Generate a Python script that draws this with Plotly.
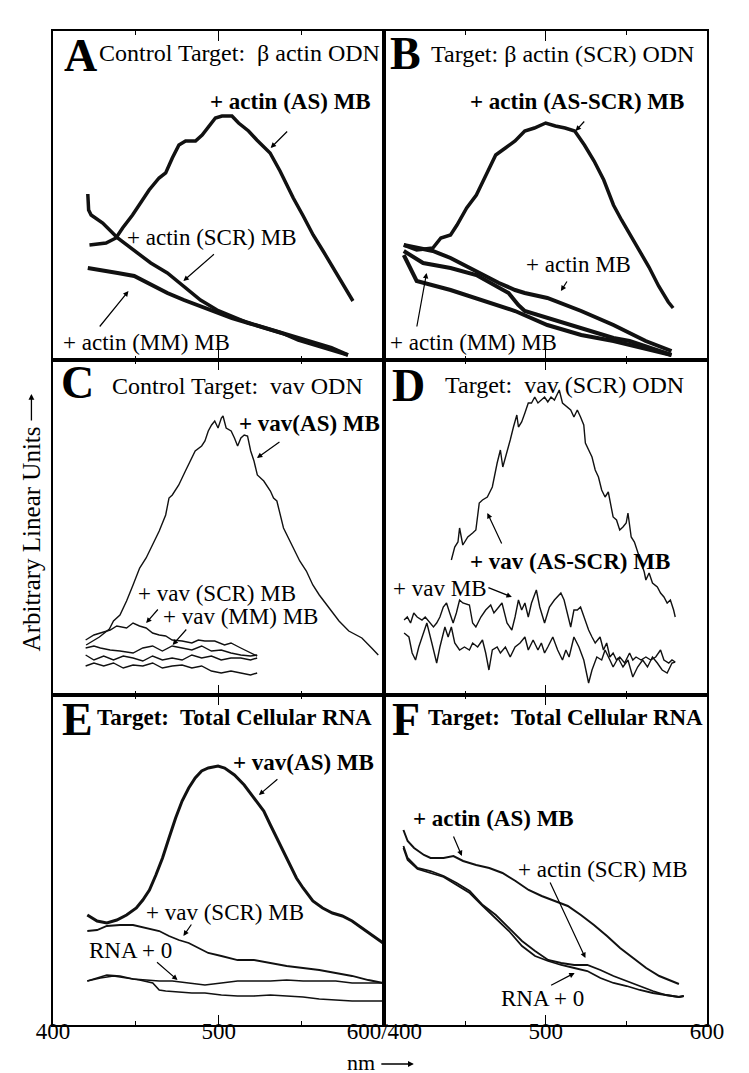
import plotly.graph_objects as go
from plotly.subplots import make_subplots

# -----------------------------
# Spectra (x = nm, y = arbitrary linear units)
# -----------------------------

# A  Control target: beta actin ODN
a_as_nm = [422, 432, 438, 442, 448, 452, 458, 464, 468, 472, 476, 480, 486, 490, 494, 498,
           502, 508, 512, 518, 523, 527, 531, 537, 541, 545, 551, 557, 563, 569, 575, 581]
a_as_val = [115, 117, 122, 132, 145, 155, 170, 182, 187, 202, 215, 219, 219, 225, 234, 242,
            244, 244, 237, 229, 220, 214, 207, 189, 175, 162, 144, 125, 109, 92, 75, 59]
a_scr_nm = [421, 421.5, 423, 430, 439, 449, 459, 469, 479, 489, 499, 508, 518, 528, 538, 548, 558, 568, 578]
a_scr_val = [166, 150, 145, 137, 122, 110, 97, 87, 74, 60, 50, 44, 37, 32, 27, 20, 15, 10, 5]
a_mm_nm = [421, 430, 439, 449, 459, 469, 479, 489, 499, 508, 518, 528, 538, 548, 558, 568, 578]
a_mm_val = [92, 89, 87, 84, 75, 67, 60, 54, 47, 42, 37, 32, 27, 22, 17, 12, 5]

# B  Target: beta actin (SCR) ODN
b_as_nm = [412, 420, 430, 435, 441, 445, 451, 457, 463, 469, 475, 481, 487, 493, 500,
           506, 512, 518, 524, 530, 536, 542, 547, 552, 558, 564, 570, 576, 579]
b_as_val = [115, 110, 112, 122, 125, 135, 152, 165, 185, 205, 212, 219, 229, 232, 237,
            234, 232, 229, 215, 199, 180, 155, 140, 126, 110, 93, 74, 58, 52]
b_actin_nm = [412, 430, 441, 457, 471, 481, 487, 501, 522, 542, 562, 578]
b_actin_val = [115, 109, 102, 89, 77, 70, 67, 62, 49, 35, 19, 9]
b_mm1_nm = [412, 424, 441, 457, 477, 483, 487, 501, 522, 542, 552, 578]
b_mm1_val = [109, 97, 92, 85, 67, 55, 49, 42, 32, 22, 19, 5]
b_mm2_nm = [412, 420, 441, 461, 481, 501, 522, 542, 578]
b_mm2_val = [105, 79, 70, 59, 49, 35, 25, 19, 5]

# C  Control target: vav ODN
c_as_nm = [420, 428, 434, 436.5, 440.4, 444.4, 448.3, 452.3, 456.2, 460.2, 464.1, 468, 470, 472,
           475.9, 479.9, 483.8, 485.8, 489.7, 491.7, 493.7, 495.7, 497.6, 499.6, 501.6, 502.6,
           504.5, 507.5, 509.5, 511.4, 513.4, 515.4, 517.4, 519.3, 521.3, 523.3, 527.2, 531.2,
           533.1, 535.1, 539.1, 543, 547, 548.9, 552.9, 556.8, 560.7, 566.7, 572.6, 578.5,
           586.4, 592.3, 596.3]
c_as_val = [50, 58, 66, 74, 80, 94, 110, 127, 137, 150, 164, 180, 197, 200,
            210, 224, 237, 244, 249, 254, 264, 270, 274, 267, 277, 279,
            267, 264, 257, 249, 257, 260, 259, 244, 234, 220, 214, 204,
            197, 194, 167, 154, 140, 134, 124, 110, 100, 87, 74, 64,
            57, 47, 40]
c_scr_nm = [419.7, 424.7, 428.6, 434.5, 438.5, 444.4, 448.3, 452.2, 456.2, 460.1, 464.1, 468,
            471.9, 477.9, 483.8, 487.7, 491.6, 497.6, 503.5, 507.4, 513.3, 519.2, 523.2]
c_scr_val = [55, 60, 62, 65, 69, 67, 72, 69, 67, 62, 60, 59, 55, 54, 52, 55, 54, 54, 50, 52, 47, 42, 39]
c_mm_nm = [419.7, 424.7, 428.6, 434.5, 440.4, 448.3, 454.2, 460.1, 466, 471.9, 477.9, 483.8,
           489.7, 495.6, 501.5, 507.4, 513.3, 519.2, 523.2]
c_mm_val = [47, 49, 47, 45, 44, 42, 47, 49, 44, 49, 47, 45, 49, 44, 45, 42, 40, 39, 40]
c_base_nm = [419.7, 424.7, 430.6, 436.5, 442.4, 448.3, 454.2, 460.1, 466, 471.9, 477.9, 483.8,
             489.7, 495.6, 501.5, 507.4, 513.3, 519.2, 523.2]
c_base1_val = [40, 35, 39, 35, 39, 37, 34, 39, 35, 37, 35, 40, 37, 39, 35, 37, 37, 35, 37]
c_base2_val = [29, 32, 29, 32, 27, 30, 29, 32, 27, 29, 30, 27, 29, 24, 22, 24, 22, 20, 22]

# D  Target: vav (SCR) ODN
d_as_nm = [441.5, 443.6, 445.6, 446.6, 448.6, 451.7, 454.7, 456.7, 458.8, 460.8, 463.8, 466.9,
           469.9, 471.9, 473.4, 476, 478, 480, 482.1, 483.1, 485.1, 487.1, 489.2, 491.2, 493.2,
           495.2, 497.3, 499.3, 501.3, 503.3, 505.4, 507.4, 508.4, 510.4, 513.5, 515.5, 517.5,
           519.6, 521.6, 523.6, 524.6, 526.6, 528.7, 530.7, 532.7, 534.7, 536.8, 538.8, 539.8,
           541.8, 543.9, 545.9, 547.9, 549.9, 551, 552, 553, 555, 561.1, 562.1, 564.1, 566.2,
           569.2, 571.2, 573.3, 575.3, 577.3, 579.3, 580.3]
d_as_val = [135, 148, 153, 167, 150, 158, 162, 165, 192, 195, 198, 208,
            232, 245, 228, 245, 255, 268, 280, 268, 273, 282, 292, 292, 298,
            292, 295, 298, 293, 298, 295, 302, 305, 292, 288, 285, 278,
            285, 278, 270, 252, 245, 238, 225, 218, 205, 198, 203, 195,
            178, 175, 165, 168, 172, 182, 168, 158, 153, 123, 115, 122, 112,
            108, 102, 98, 92, 95, 85, 78]
d_vav_nm = [412.2, 414.2, 416.2, 418.2, 420.3, 423.3, 425.3, 428.4, 430.4, 432.4, 434.4, 436.5,
            438.5, 440.5, 442.6, 444.6, 446.6, 448.6, 452.7, 454.7, 456.7, 459.8, 462.8, 465.9,
            467.9, 470.9, 472.9, 476, 479, 481, 483.1, 485.1, 487.1, 489.2, 491.2, 494.2, 496.3,
            499.3, 502.3, 505.4, 507.4, 509.4, 511.4, 513.5, 515.5, 517.5, 519.6, 521.6, 523.6,
            526.6, 528.7, 530.7, 533.7, 535.8, 537.8, 539.8, 541.8, 543.9, 545.9, 548.9, 552,
            554, 556, 559.1, 562.1, 565.1, 568.2, 571.2, 573.3, 576.3, 578.3, 580.3]
d_vav_val = [75, 78, 72, 82, 78, 75, 78, 72, 68, 72, 78, 88,
             92, 82, 72, 82, 95, 92, 90, 72, 68, 78, 85, 90,
             82, 88, 92, 72, 65, 78, 95, 85, 92, 78, 92, 105, 88,
             72, 88, 95, 98, 102, 95, 82, 68, 85, 85, 88, 78,
             65, 58, 52, 58, 45, 52, 38, 42, 35, 38, 32, 42,
             35, 38, 35, 38, 35, 38, 45, 35, 32, 35, 33]
d_base_nm = [412.2, 415.2, 417.2, 419.3, 421.3, 423.3, 426.3, 429.4, 432.4, 434.4, 437.5, 439.5,
             441.5, 443.6, 446.6, 449.6, 452.7, 454.7, 457.8, 460.8, 462.8, 464.8, 466.9, 469.9,
             471.9, 475, 478, 481, 484.1, 487.1, 489.2, 492.2, 495.2, 497.3, 499.3, 501.3, 504.4,
             507.4, 510.4, 512.5, 514.5, 517.5, 520.6, 523.6, 526.6, 528.7, 531.7, 534.7, 536.8,
             539.8, 541.8, 544.9, 547.9, 551, 554, 557, 560.1, 563.1, 566.2, 569.2, 572.2, 575.3,
             578.3, 580.3]
d_base_val = [62, 58, 42, 35, 48, 58, 72, 52, 32, 48, 68, 58,
              68, 52, 45, 48, 45, 52, 48, 55, 42, 25, 45, 48,
              42, 48, 38, 48, 52, 58, 45, 55, 45, 52, 42, 48, 58,
              45, 35, 45, 38, 58, 48, 35, 12, 25, 38, 35, 45,
              35, 28, 37, 28, 35, 18, 28, 35, 28, 38, 32, 25, 22,
              32, 33]

# E  Target: total cellular RNA (vav beacons)
e_as_nm = [420.7, 426.6, 432.5, 438.5, 444.4, 450.3, 454.2, 458.2, 462.1, 466.1, 470, 474, 477.9,
           481.9, 485.8, 489.7, 493.7, 499.6, 503.6, 509.5, 515.4, 521.3, 527.2, 531.2, 535.1,
           541, 546.9, 550.9, 556.8, 562.7, 568.6, 574.6, 580.5, 586.4, 592.3, 599.2]
e_as_val = [110, 104, 102, 105, 110, 117, 125, 135, 150, 167, 187, 207, 224,
            237, 247, 254, 257, 259, 257, 250, 240, 227, 214, 200, 187,
            167, 147, 137, 124, 117, 112, 109, 104, 97, 90, 82]
e_scr_nm = [420.7, 426.6, 432.5, 440.4, 448.3, 456.2, 464.1, 470, 475.9, 481.9, 487.8, 493.7,
            501.6, 511.4, 521.3, 531.2, 541, 550.9, 560.7, 570.6, 580.5, 590.3, 599.2]
e_scr_val = [94, 95, 99, 100, 100, 97, 94, 89, 85, 82, 77, 72, 69, 65, 65, 62, 59, 57, 55, 52, 49, 45, 42]
e_rna1_nm = [420.7, 426.6, 432.5, 440.4, 448.3, 456.2, 464.1, 472, 481.9, 491.7, 501.6, 511.4,
             521.3, 531.2, 541, 550.9, 560.7, 570.6, 580.5, 590.3, 599.2]
e_rna1_val = [44, 47, 50, 49, 46, 45, 44, 44, 42, 40, 42, 44, 44, 44, 45, 44, 44, 44, 42, 42, 42]
e_rna2_nm = [420.7, 428.6, 436.5, 444.4, 452.3, 460.2, 464.1, 468, 475.9, 483.8, 491.7, 501.6,
             511.4, 521.3, 531.2, 541, 550.9, 560.7, 570.6, 580.5, 590.3, 599.2]
e_rna2_val = [44, 47, 49, 47, 45, 42, 35, 34, 33, 32, 32, 30, 29, 29, 30, 29, 28, 26, 25, 24, 24, 24]

# F  Target: total cellular RNA (actin beacons)
f_as_nm = [411.8, 414.4, 418.4, 424.5, 428.6, 436.7, 442.8, 448.8, 456.9, 465, 473.2, 481.3,
           489.4, 497.5, 505.6, 513.7, 521.8, 529.9, 538, 546.1, 554.2, 562.3, 570.4, 578.5, 582.6]
f_as_val = [195, 184, 177, 170, 167, 167, 169, 164, 160, 157, 152, 144,
            135, 129, 124, 119, 110, 100, 89, 77, 67, 57, 49, 44, 41]
f_nm = [411.8, 414.4, 420.5, 428.6, 436.7, 444.8, 452.9, 461, 469.1, 477.2, 485.3, 493.4,
        501.5, 509.6, 517.7, 525.8, 533.9, 542, 550.2, 558.3, 566.4, 574.5, 582.6, 585.6]
f_scr_val = [179, 167, 157, 154, 149, 142, 134, 120, 110, 97, 84, 74,
             65, 62, 60, 60, 55, 49, 44, 39, 34, 30, 28, 29]
f_rna_val = [177, 165, 156, 152, 148, 140, 132, 119, 107, 94, 79, 69,
             64, 60, 57, 54, 47, 42, 39, 35, 32, 30, 28, 29]

# -----------------------------
# Figure
# -----------------------------

W, H = 749, 1073
L, R, T, B = 45, 712, 23, 1017
FONT = "Liberation Serif"

fig = make_subplots(
    rows=3, cols=2,
    column_widths=[338, 329],
    row_heights=[329, 335, 330],
    horizontal_spacing=0,
    vertical_spacing=0,
)


def add(x, y, row, col, width):
    fig.add_trace(
        go.Scatter(x=x, y=y, mode="lines",
                   line=dict(color="#111111", width=width),
                   showlegend=False, hoverinfo="skip"),
        row=row, col=col,
    )


add(a_mm_nm, a_mm_val, 1, 1, 4)
add(a_scr_nm, a_scr_val, 1, 1, 3.5)
add(a_as_nm, a_as_val, 1, 1, 3.5)

add(b_mm2_nm, b_mm2_val, 1, 2, 4)
add(b_mm1_nm, b_mm1_val, 1, 2, 4)
add(b_actin_nm, b_actin_val, 1, 2, 4)
add(b_as_nm, b_as_val, 1, 2, 3.5)

add(c_base_nm, c_base2_val, 2, 1, 1.4)
add(c_base_nm, c_base1_val, 2, 1, 1.4)
add(c_mm_nm, c_mm_val, 2, 1, 1.4)
add(c_scr_nm, c_scr_val, 2, 1, 1.4)
add(c_as_nm, c_as_val, 2, 1, 1.4)

add(d_base_nm, d_base_val, 2, 2, 1.4)
add(d_vav_nm, d_vav_val, 2, 2, 1.4)
add(d_as_nm, d_as_val, 2, 2, 1.4)

add(e_rna2_nm, e_rna2_val, 3, 1, 1.6)
add(e_rna1_nm, e_rna1_val, 3, 1, 1.6)
add(e_scr_nm, e_scr_val, 3, 1, 1.8)
add(e_as_nm, e_as_val, 3, 1, 3)

add(f_nm, f_rna_val, 3, 2, 1.8)
add(f_nm, f_scr_val, 3, 2, 1.8)
add(f_as_nm, f_as_val, 3, 2, 2)

# axes: boxed panels, inward ticks top and bottom, labels only on the bottom row
row_tops = [329, 335, 330]
for r in range(1, 4):
    for c in range(1, 3):
        bottom = r == 3
        if bottom and c == 1:
            tv, tt = [400, 500, 600], ["400", "500", "600/400"]
        elif bottom:
            tv, tt = [500, 600], ["500", "600"]
        else:
            tv, tt = [400, 500, 600], ["", "", ""]
        fig.update_xaxes(
            row=r, col=c,
            range=[400, 600],
            showline=True, linewidth=2, linecolor="black", mirror="ticks",
            showgrid=False, zeroline=False,
            ticks="inside", ticklen=10, tickwidth=1.3, tickcolor="black",
            tickmode="array", tickvals=tv, ticktext=tt,
            showticklabels=bottom, ticklabelstandoff=-16,
            tickfont=dict(family=FONT, size=23, color="black"),
            minor=dict(tickmode="array", tickvals=[450, 550], ticks="inside",
                       ticklen=4, tickwidth=1.2, tickcolor="black"),
        )
        fig.update_yaxes(
            row=r, col=c,
            range=[0, row_tops[r - 1]],
            showline=True, linewidth=2, linecolor="black", mirror=True,
            showgrid=False, zeroline=False, ticks="", showticklabels=False,
        )


def px(x, y):
    return (x - L) / (R - L), (B - y) / (B - T)


annotations = []


def label(text, x, y, size=23, anchor="left", angle=0):
    xp, yp = px(x, y)
    annotations.append(dict(
        text=text, x=xp, y=yp, xref="paper", yref="paper",
        xanchor=anchor, yanchor="middle", showarrow=False, textangle=angle,
        font=dict(family=FONT, size=size, color="black"),
    ))


def arrow(x0, y0, x1, y1, width=1.2):
    xp, yp = px(x1, y1)
    annotations.append(dict(
        text="", x=xp, y=yp, xref="paper", yref="paper",
        ax=x0 - x1, ay=y0 - y1, showarrow=True,
        arrowhead=2, arrowsize=0.9, arrowwidth=width, arrowcolor="black", standoff=0,
    ))


# panel letters and titles
for letter, x, y in [("A", 54, 47), ("B", 387, 46), ("C", 51, 374),
                     ("D", 389, 377), ("E", 52, 712), ("F", 389, 712)]:
    label(f"<b>{letter}</b>", x, y, size=46)

label("Control Target:\u00a0 β actin ODN", 90, 45, size=24)
label("Target: β actin (SCR) ODN", 428, 46, size=24)
label("Control Target:\u00a0 vav ODN", 103, 378, size=24)
label("Target:\u00a0 vav (SCR) ODN", 443, 377, size=24)
label("<b>Target:\u00a0 Total Cellular RNA</b>", 88, 709, size=23)
label("<b>Target:\u00a0 Total Cellular RNA</b>", 425, 709, size=23)

# curve labels
label("<b>+ actin (AS) MB</b>", 203, 93)
label("+ actin (SCR) MB", 118, 230)
label("+ actin (MM) MB", 53, 335)
label("<b>+ actin (AS-SCR) MB</b>", 468, 94)
label("+ actin MB", 525, 256)
label("+ actin (MM) MB", 387, 335)
label("<b>+ vav(AS) MB</b>", 233, 415)
label("+ vav (SCR) MB", 130, 585)
label("+ vav (MM) MB", 155, 608)
label("<b>+ vav (AS-SCR) MB</b>", 468, 553)
label("+ vav MB", 390, 580)
label("<b>+ vav(AS) MB</b>", 227, 754)
label("+ vav (SCR) MB", 138, 904)
label("RNA + 0", 80, 942)
label("<b>+ actin (AS) MB</b>", 410, 810)
label("+ actin (SCR) MB", 517, 861)
label("RNA + 0", 500, 990)

# pointer arrows (tail -> head)
arrow(285, 122, 267, 140)
arrow(210, 245, 178, 273)
arrow(92, 320, 122, 283)
arrow(588, 112, 578, 123)
arrow(570, 272, 563, 283)
arrow(416, 320, 426, 265)
arrow(277, 433, 253, 450)
arrow(153, 600, 140, 615)
arrow(182, 620, 167, 637)
arrow(503, 537, 488, 505)
arrow(488, 579, 513, 589)
arrow(275, 770, 255, 787)
arrow(187, 915, 178, 928)
arrow(150, 953, 172, 972)
arrow(453, 827, 462, 848)
arrow(552, 873, 588, 950)
arrow(552, 978, 577, 965)

# axis titles
label("Arbitrary Linear Units", 23, 531, size=25, anchor="center", angle=-90)
arrow(23, 414, 23, 386, width=1.3)
label("nm", 359, 1054, size=22, anchor="center")
arrow(379, 1056, 413, 1056, width=1.3)

fig.update_layout(
    width=W, height=H,
    margin=dict(l=L, r=W - R, t=T, b=H - B),
    paper_bgcolor="white", plot_bgcolor="white",
    font=dict(family=FONT, size=22, color="black"),
    annotations=annotations,
)

fig.write_html("out.html")
